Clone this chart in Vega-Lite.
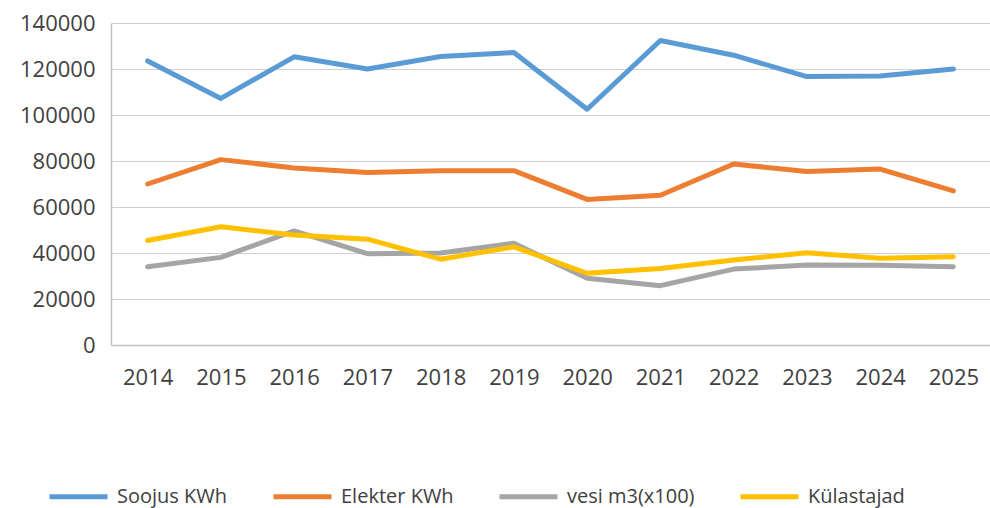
{
  "$schema": "https://vega.github.io/schema/vega-lite/v6.json",
  "autosize": {"type": "none"},
  "width": 879,
  "height": 322,
  "padding": {"left": 111, "top": 23, "right": 0, "bottom": 163},
  "background": "#ffffff",
  "config": {
    "view": {"stroke": null},
    "font": "Open Sans"
  },
  "data": {
    "values": [
      {"year": "2014", "series": "Soojus KWh", "value": 123500},
      {"year": "2015", "series": "Soojus KWh", "value": 107200},
      {"year": "2016", "series": "Soojus KWh", "value": 125300},
      {"year": "2017", "series": "Soojus KWh", "value": 120000},
      {"year": "2018", "series": "Soojus KWh", "value": 125400},
      {"year": "2019", "series": "Soojus KWh", "value": 127200},
      {"year": "2020", "series": "Soojus KWh", "value": 102500},
      {"year": "2021", "series": "Soojus KWh", "value": 132400},
      {"year": "2022", "series": "Soojus KWh", "value": 126000},
      {"year": "2023", "series": "Soojus KWh", "value": 116700},
      {"year": "2024", "series": "Soojus KWh", "value": 117000},
      {"year": "2025", "series": "Soojus KWh", "value": 120000},
      {"year": "2014", "series": "Elekter KWh", "value": 70000},
      {"year": "2015", "series": "Elekter KWh", "value": 80600},
      {"year": "2016", "series": "Elekter KWh", "value": 77000},
      {"year": "2017", "series": "Elekter KWh", "value": 75000},
      {"year": "2018", "series": "Elekter KWh", "value": 75800},
      {"year": "2019", "series": "Elekter KWh", "value": 75800},
      {"year": "2020", "series": "Elekter KWh", "value": 63300},
      {"year": "2021", "series": "Elekter KWh", "value": 65100},
      {"year": "2022", "series": "Elekter KWh", "value": 78700},
      {"year": "2023", "series": "Elekter KWh", "value": 75400},
      {"year": "2024", "series": "Elekter KWh", "value": 76500},
      {"year": "2025", "series": "Elekter KWh", "value": 67000},
      {"year": "2014", "series": "vesi m3(x100)", "value": 34000},
      {"year": "2015", "series": "vesi m3(x100)", "value": 38100},
      {"year": "2016", "series": "vesi m3(x100)", "value": 49600},
      {"year": "2017", "series": "vesi m3(x100)", "value": 39700},
      {"year": "2018", "series": "vesi m3(x100)", "value": 40000},
      {"year": "2019", "series": "vesi m3(x100)", "value": 44200},
      {"year": "2020", "series": "vesi m3(x100)", "value": 29000},
      {"year": "2021", "series": "vesi m3(x100)", "value": 25800},
      {"year": "2022", "series": "vesi m3(x100)", "value": 33000},
      {"year": "2023", "series": "vesi m3(x100)", "value": 34800},
      {"year": "2024", "series": "vesi m3(x100)", "value": 34700},
      {"year": "2025", "series": "vesi m3(x100)", "value": 34000},
      {"year": "2014", "series": "Külastajad", "value": 45400},
      {"year": "2015", "series": "Külastajad", "value": 51400},
      {"year": "2016", "series": "Külastajad", "value": 47800},
      {"year": "2017", "series": "Külastajad", "value": 46000},
      {"year": "2018", "series": "Külastajad", "value": 37300},
      {"year": "2019", "series": "Külastajad", "value": 42700},
      {"year": "2020", "series": "Külastajad", "value": 31200},
      {"year": "2021", "series": "Külastajad", "value": 33300},
      {"year": "2022", "series": "Külastajad", "value": 37000},
      {"year": "2023", "series": "Külastajad", "value": 40100},
      {"year": "2024", "series": "Külastajad", "value": 37700},
      {"year": "2025", "series": "Külastajad", "value": 38400}
    ]
  },
  "mark": {"type": "line", "strokeWidth": 5, "strokeCap": "round", "strokeJoin": "round"},
  "encoding": {
    "x": {
      "field": "year",
      "type": "ordinal",
      "scale": {"type": "point", "padding": 0.5},
      "axis": {
        "title": null,
        "labelAngle": 0,
        "labelFontSize": 22,
        "labelColor": "#404040",
        "labelBaseline": "middle",
        "labelPadding": 32,
        "ticks": false,
        "tickSize": 0,
        "domainColor": "#bfbfbf",
        "domainWidth": 1.5,
        "grid": false
      }
    },
    "y": {
      "field": "value",
      "type": "quantitative",
      "scale": {"domain": [0, 140000], "nice": false},
      "axis": {
        "title": null,
        "values": [0, 20000, 40000, 60000, 80000, 100000, 120000, 140000],
        "format": "d",
        "labelFontSize": 22,
        "labelColor": "#404040",
        "labelPadding": 16,
        "ticks": false,
        "tickSize": 0,
        "domainColor": "#bfbfbf",
        "domainWidth": 1.5,
        "grid": true,
        "gridColor": "#d0d0d0",
        "gridWidth": 1.2
      }
    },
    "color": {
      "field": "series",
      "type": "nominal",
      "sort": ["Soojus KWh", "Elekter KWh", "vesi m3(x100)", "Külastajad"],
      "scale": {
        "domain": ["Soojus KWh", "Elekter KWh", "vesi m3(x100)", "Külastajad"],
        "range": ["#5B9BD5", "#ED7D31", "#A5A5A5", "#FFC000"]
      },
      "legend": {
        "title": null,
        "orient": "none",
        "direction": "horizontal",
        "legendX": -64,
        "legendY": 442,
        "symbolType": "stroke",
        "symbolSize": 3364,
        "symbolStrokeWidth": 5,
        "labelFontSize": 20,
        "labelColor": "#404040",
        "labelOffset": 7,
        "columnPadding": 35,
        "labelLimit": 300
      }
    }
  }
}
